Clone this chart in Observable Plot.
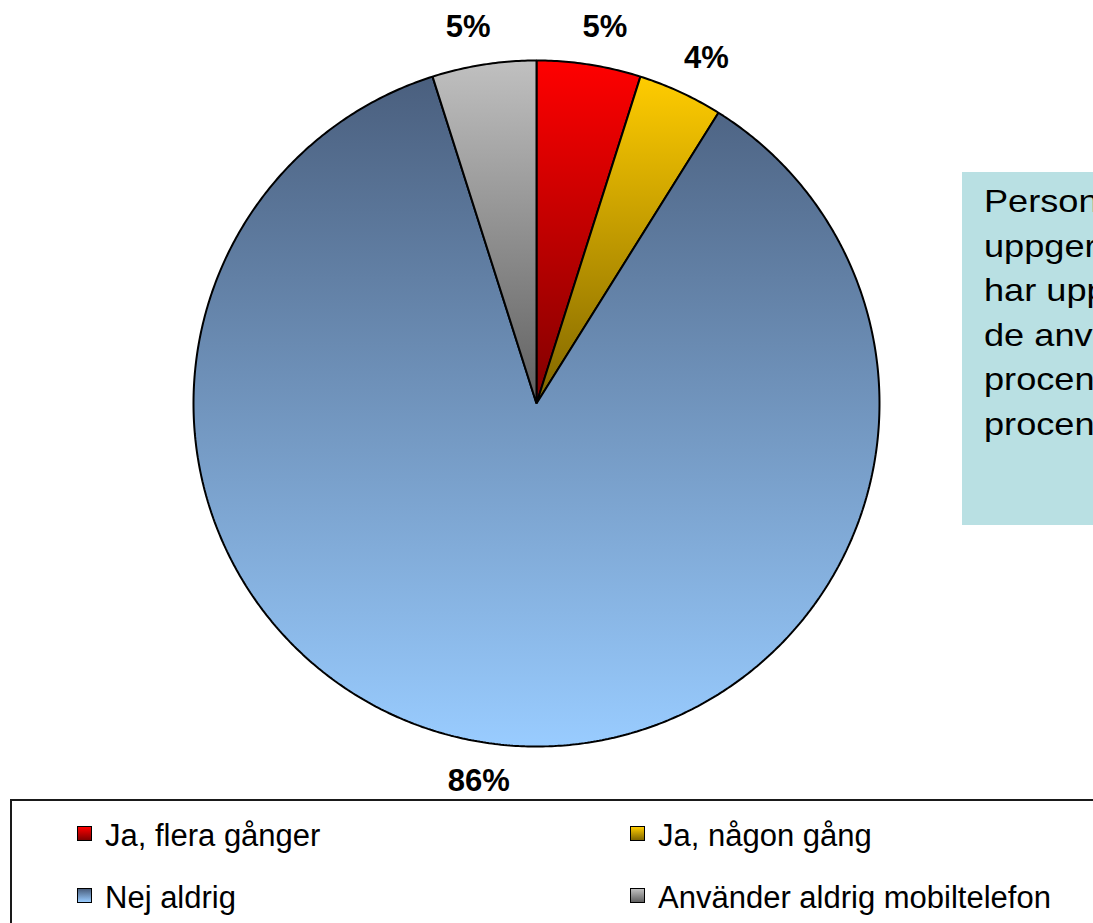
<!DOCTYPE html>
<html>
<head>
<meta charset="utf-8">
<script src="https://cdn.jsdelivr.net/npm/d3@7"></script>
<script src="https://cdn.jsdelivr.net/npm/@observablehq/plot@0.6"></script>
<style>
  html, body { margin: 0; padding: 0; background: #fff; }
  body { width: 1093px; height: 923px; overflow: hidden; position: relative;
         font-family: "Liberation Sans", Arial, sans-serif; }
  #chart svg { display: block; }
  #note { position: absolute; left: 962px; top: 172px; width: 200px; height: 353px;
          background: #b9e0e3; overflow: hidden; }
  #note .inner { position: absolute; left: 22px; top: 7px; font-size: 32px; line-height: 44.5px;
                 color: #000; transform: scaleX(1.13); transform-origin: 0 0; white-space: nowrap; }
  #legend { position: absolute; left: 10px; top: 799px; width: 1120px; height: 160px;
            border: 2px solid #1a1a1a; box-sizing: border-box; }
  .item { position: absolute; font-size: 31px; line-height: 31px; white-space: nowrap; color: #000; }
  .swatch { position: absolute; width: 13px; height: 13px; border: 1px solid #000; }
</style>
</head>
<body>
<div id="chart"></div>
<div id="note"><div class="inner"></div></div>
<div id="legend"></div>
<script>
// ---- data ----
const categories = ["Ja, flera gånger", "Ja, någon gång", "Nej aldrig", "Använder aldrig mobiltelefon"];
const values = [4.9, 4.0, 86.2, 4.9];
const valueLabels = ["5%", "4%", "86%", "5%"];
const noteLines = ["Person", "uppger", "har upp", "de anv", "procen", "procen"];

// ---- styles ----
const gradTop = ["#ff0000", "#ffcc00", "#4a5f7e", "#c0c0c0"];
const gradBottom = ["#800000", "#806600", "#99ccff", "#606060"];

const rows = categories.map((c, i) => ({category: c, value: values[i], label: valueLabels[i], i}));
const arcs = d3.pie().sort(null).value(d => d.value)(rows);

// slice outlines (unit circle coordinates) derived from the pie layout
const slices = arcs.map(a => {
  const pts = [{x: 0, y: 0}];
  const n = Math.max(8, Math.ceil((a.endAngle - a.startAngle) / (Math.PI / 360)));
  for (let k = 0; k <= n; k++) {
    const t = a.startAngle + (a.endAngle - a.startAngle) * k / n;
    pts.push({x: Math.sin(t), y: Math.cos(t)});
  }
  return pts;
});

const labelPts = arcs.map(a => {
  const m = (a.startAngle + a.endAngle) / 2;
  const s = Math.sin(m);
  return {x: 1.11 * s + 0.029 * Math.sign(s), y: 1.11 * Math.cos(m), label: a.data.label};
});

const defsMark = () => {
  const defs = d3.create("svg:defs");
  gradTop.forEach((c, i) => {
    const g = defs.append("linearGradient").attr("id", "grad" + i)
      .attr("x1", 0).attr("y1", 0).attr("x2", 0).attr("y2", 1);
    g.append("stop").attr("offset", "0%").attr("stop-color", c);
    g.append("stop").attr("offset", "100%").attr("stop-color", gradBottom[i]);
  });
  return defs.node();
};

const plot = Plot.plot({
  width: 1093,
  height: 800,
  margin: 0,
  x: {domain: [-1, 1], range: [193, 879], axis: null},
  y: {domain: [-1, 1], range: [746, 60], axis: null},
  style: {background: "#fff", fontFamily: "'Liberation Sans', Arial, sans-serif"},
  marks: [
    defsMark,
    ...slices.map((pts, i) => Plot.line(pts, {
      x: "x", y: "y", curve: "linear-closed",
      fill: `url(#grad${i})`, stroke: "#000", strokeWidth: 2, strokeLinejoin: "miter"
    })),
    Plot.text(labelPts, {
      x: "x", y: "y", text: "label", fontSize: 31, fontWeight: "bold", fill: "#000"
    })
  ]
});
document.getElementById("chart").appendChild(plot);

// note box
const inner = document.querySelector("#note .inner");
inner.innerHTML = noteLines.map(l => `<div>${l}</div>`).join("");

// legend
const legend = document.getElementById("legend");
const cols = [65, 618];
const rowTops = [19, 81];
categories.forEach((c, i) => {
  const col = i % 2, row = Math.floor(i / 2);
  const sw = document.createElement("div");
  sw.className = "swatch";
  sw.style.left = cols[col] + "px";
  sw.style.top = (rowTops[row] + 6) + "px";
  sw.style.background = `linear-gradient(to bottom, ${gradTop[i]}, ${gradBottom[i]})`;
  legend.appendChild(sw);
  const t = document.createElement("div");
  t.className = "item";
  t.style.left = (cols[col] + 28) + "px";
  t.style.top = rowTops[row] + "px";
  t.textContent = c;
  legend.appendChild(t);
});
</script>
</body>
</html>
